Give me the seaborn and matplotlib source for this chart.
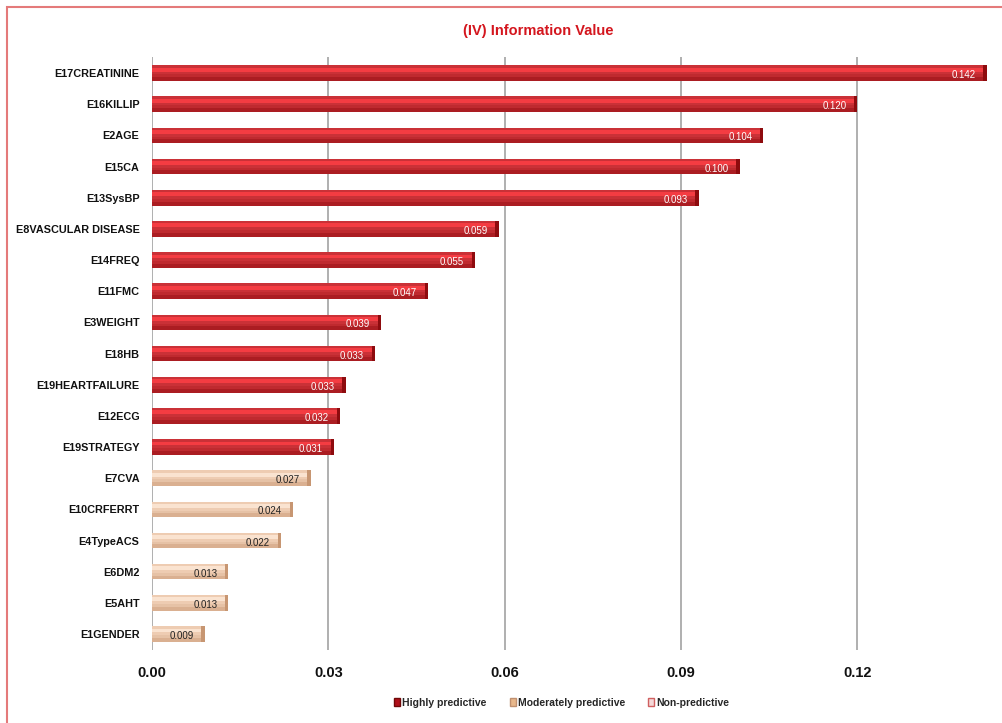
import matplotlib
matplotlib.use("Agg")
import matplotlib.pyplot as plt
from matplotlib.patches import Rectangle, Patch
import seaborn as sns
import pandas as pd

features = ["E17CREATININE", "E16KILLIP", "E2AGE", "E15CA", "E13SysBP",
            "E8VASCULAR DISEASE", "E14FREQ", "E11FMC", "E3WEIGHT", "E18HB",
            "E19HEARTFAILURE", "E12ECG", "E19STRATEGY", "E7CVA", "E10CRFERRT",
            "E4TypeACS", "E6DM2", "E5AHT", "E1GENDER"]
values = [0.142, 0.120, 0.104, 0.100, 0.093, 0.059, 0.055, 0.047, 0.039, 0.038,
          0.033, 0.032, 0.031, 0.027, 0.024, 0.022, 0.013, 0.013, 0.009]
value_labels = ["0.142", "0.120", "0.104", "0.100", "0.093", "0.059", "0.055", "0.047",
                "0.039", "0.033", "0.033", "0.032", "0.031", "0.027", "0.024", "0.022",
                "0.013", "0.013", "0.009"]
groups = ["Highly predictive"] * 13 + ["Moderately predictive"] * 6
legend_names = ["Highly predictive", "Moderately predictive", "Non-predictive"]
x_ticks = [0.00, 0.03, 0.06, 0.09, 0.12]

df = pd.DataFrame({"feature": features, "value": values, "group": groups})

sns.set_theme(style="white")
plt.rcParams["font.family"] = ["Liberation Sans", "DejaVu Sans"]

fig = plt.figure(figsize=(10.03, 7.23), dpi=100)
ax = fig.add_axes([0.1515, 0.1015, 0.8335, 0.819])

fill = {"Highly predictive": "#e4171f", "Moderately predictive": "#f8cba8"}
edge = {"Highly predictive": "#8e0b0e", "Moderately predictive": "#c79672"}
light = {"Highly predictive": "#ff4046", "Moderately predictive": "#feead8"}
txtc = {"Highly predictive": "white", "Moderately predictive": "#222222"}

sns.barplot(data=df, y="feature", x="value", hue="group", dodge=False,
            palette=fill, width=0.5, orient="h", ax=ax, legend=False,
            linewidth=0)

bars = [p for p in ax.patches if p.get_width() > 0]
bars.sort(key=lambda p: p.get_y())
for p, g, lab in zip(bars, groups, value_labels):
    x0, y0, w, h = p.get_x(), p.get_y(), p.get_width(), p.get_height()
    z = p.get_zorder()
    # glossy look: soft dark lower band, light upper highlight, dark bar end
    ax.add_patch(Rectangle((x0, y0 + h * 0.75), w, h * 0.25, color=edge[g], alpha=0.5, lw=0, zorder=z + 0.1))
    ax.add_patch(Rectangle((x0, y0 + h * 0.58), w, h * 0.17, color=edge[g], alpha=0.18, lw=0, zorder=z + 0.1))
    ax.add_patch(Rectangle((x0, y0 + h * 0.15), w, h * 0.25, color=light[g], alpha=0.8, lw=0, zorder=z + 0.1))
    ax.add_patch(Rectangle((x0 + w - 0.0006, y0), 0.0006, h, color=edge[g], lw=0, zorder=z + 0.2))
    ax.annotate(lab, (x0 + w, y0 + h / 2), xytext=(-8, -1.5), textcoords="offset points",
                ha="right", va="center", fontsize=7, color=txtc[g], zorder=5)

ax.set_xlim(0, 0.1422)
ax.set_xticks(x_ticks)
ax.set_xticklabels([f"{t:.2f}" for t in x_ticks], fontsize=10.5, fontweight="bold",
                   color="#111111")
ax.tick_params(axis="x", length=0, pad=12)
ax.tick_params(axis="y", length=0, pad=9)
for t in ax.get_yticklabels():
    t.set_fontsize(7.8)
    t.set_fontweight("bold")
    t.set_color("#111111")
ax.set_xlabel("")
ax.set_ylabel("")
ax.grid(axis="x", color="#9a9a9a", linewidth=1.1)
ax.set_axisbelow(True)
for s in ax.spines.values():
    s.set_visible(False)

fig.text(0.537, 0.957, "(IV) Information Value", ha="center", va="center",
         fontsize=10.5, fontweight="bold", color="#d4161e")

handles = [Patch(facecolor="#b0101a", edgecolor="#700808"),
           Patch(facecolor="#e8b88c", edgecolor="#c09070"),
           Patch(facecolor="#f4d8d8", edgecolor="#d06060")]
fig.legend(handles, legend_names, loc="center", bbox_to_anchor=(0.56, 0.028), ncol=3,
           frameon=False, handlelength=0.6, handleheight=0.9, handletextpad=0.2,
           columnspacing=2.2, prop={"size": 7.5, "weight": "bold"})

fig.patches.append(Rectangle((0.007, -0.1), 1.2, 1.0903, transform=fig.transFigure,
                             fill=False, edgecolor="#e47a7a", linewidth=1.5, zorder=0))

fig.savefig("out.png", dpi=100)
